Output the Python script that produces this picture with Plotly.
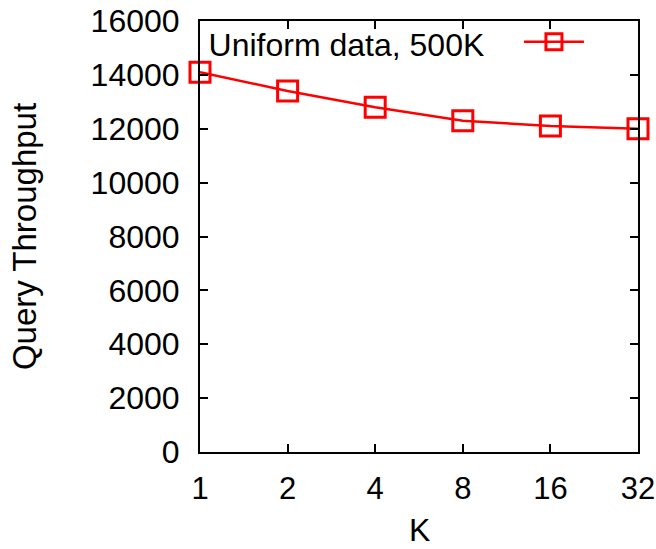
import plotly.graph_objects as go

k_values = [1, 2, 4, 8, 16, 32]
tick_labels = ["1", "2", "4", "8", "16", "32"]
throughput = [14100, 13400, 12800, 12300, 12100, 12000]
y_ticks = [0, 2000, 4000, 6000, 8000, 10000, 12000, 14000, 16000]
y_tick_labels = [str(v) for v in y_ticks]
legend_label = "Uniform data, 500K"
x_title = "K"
y_title = "Query Throughput"

FONT = "Liberation Sans, Arial, Helvetica, sans-serif"

fig = go.Figure()
fig.add_trace(go.Scatter(
    x=k_values, y=throughput, mode="lines+markers", name="",
    line=dict(color="#ff0000", width=2.5),
    marker=dict(symbol="square-open", size=20, color="#ff0000",
                line=dict(color="#ff0000", width=3)),
    showlegend=True,
    cliponaxis=False,
))

axis_common = dict(
    showline=True, linecolor="black", linewidth=2, mirror="ticks",
    ticks="inside", ticklen=8, tickwidth=2, tickcolor="black",
    showgrid=False, zeroline=False, automargin=False,
    ticklabeloverflow="allow",
)

fig.update_layout(
    width=656, height=549,
    margin=dict(l=200, r=18, t=21, b=97),
    paper_bgcolor="white", plot_bgcolor="white",
    font=dict(family=FONT, size=32, color="black"),
    xaxis=dict(type="log", range=[0, 1.50515], tickvals=k_values,
               ticktext=tick_labels, ticklabelstandoff=8,
               tickfont=dict(family=FONT, size=31, color="black"),
               **axis_common),
    yaxis=dict(range=[0, 16000], tickvals=y_ticks, ticktext=y_tick_labels,
               ticklabelstandoff=12,
               tickfont=dict(family=FONT, size=32, color="black"),
               title=dict(text=y_title, font=dict(family=FONT, size=33), standoff=44),
               **axis_common),
    legend=dict(x=0.015, y=1.015, xanchor="left", yanchor="top",
                bgcolor="rgba(0,0,0,0)", borderwidth=0,
                title=dict(text=legend_label + "\u00a0\u00a0\u00a0", side="left",
                           font=dict(family=FONT, size=32)),
                itemwidth=60,
                font=dict(family=FONT, size=32)),
    annotations=[dict(text=x_title, xref="paper", yref="paper", x=0.5, y=0,
                      xanchor="center", yanchor="middle", yshift=-78,
                      showarrow=False, font=dict(family=FONT, size=32, color="black"))],
)

fig.write_html("out.html", config={"displayModeBar": False},
               post_script="document.body.style.margin='0';")
